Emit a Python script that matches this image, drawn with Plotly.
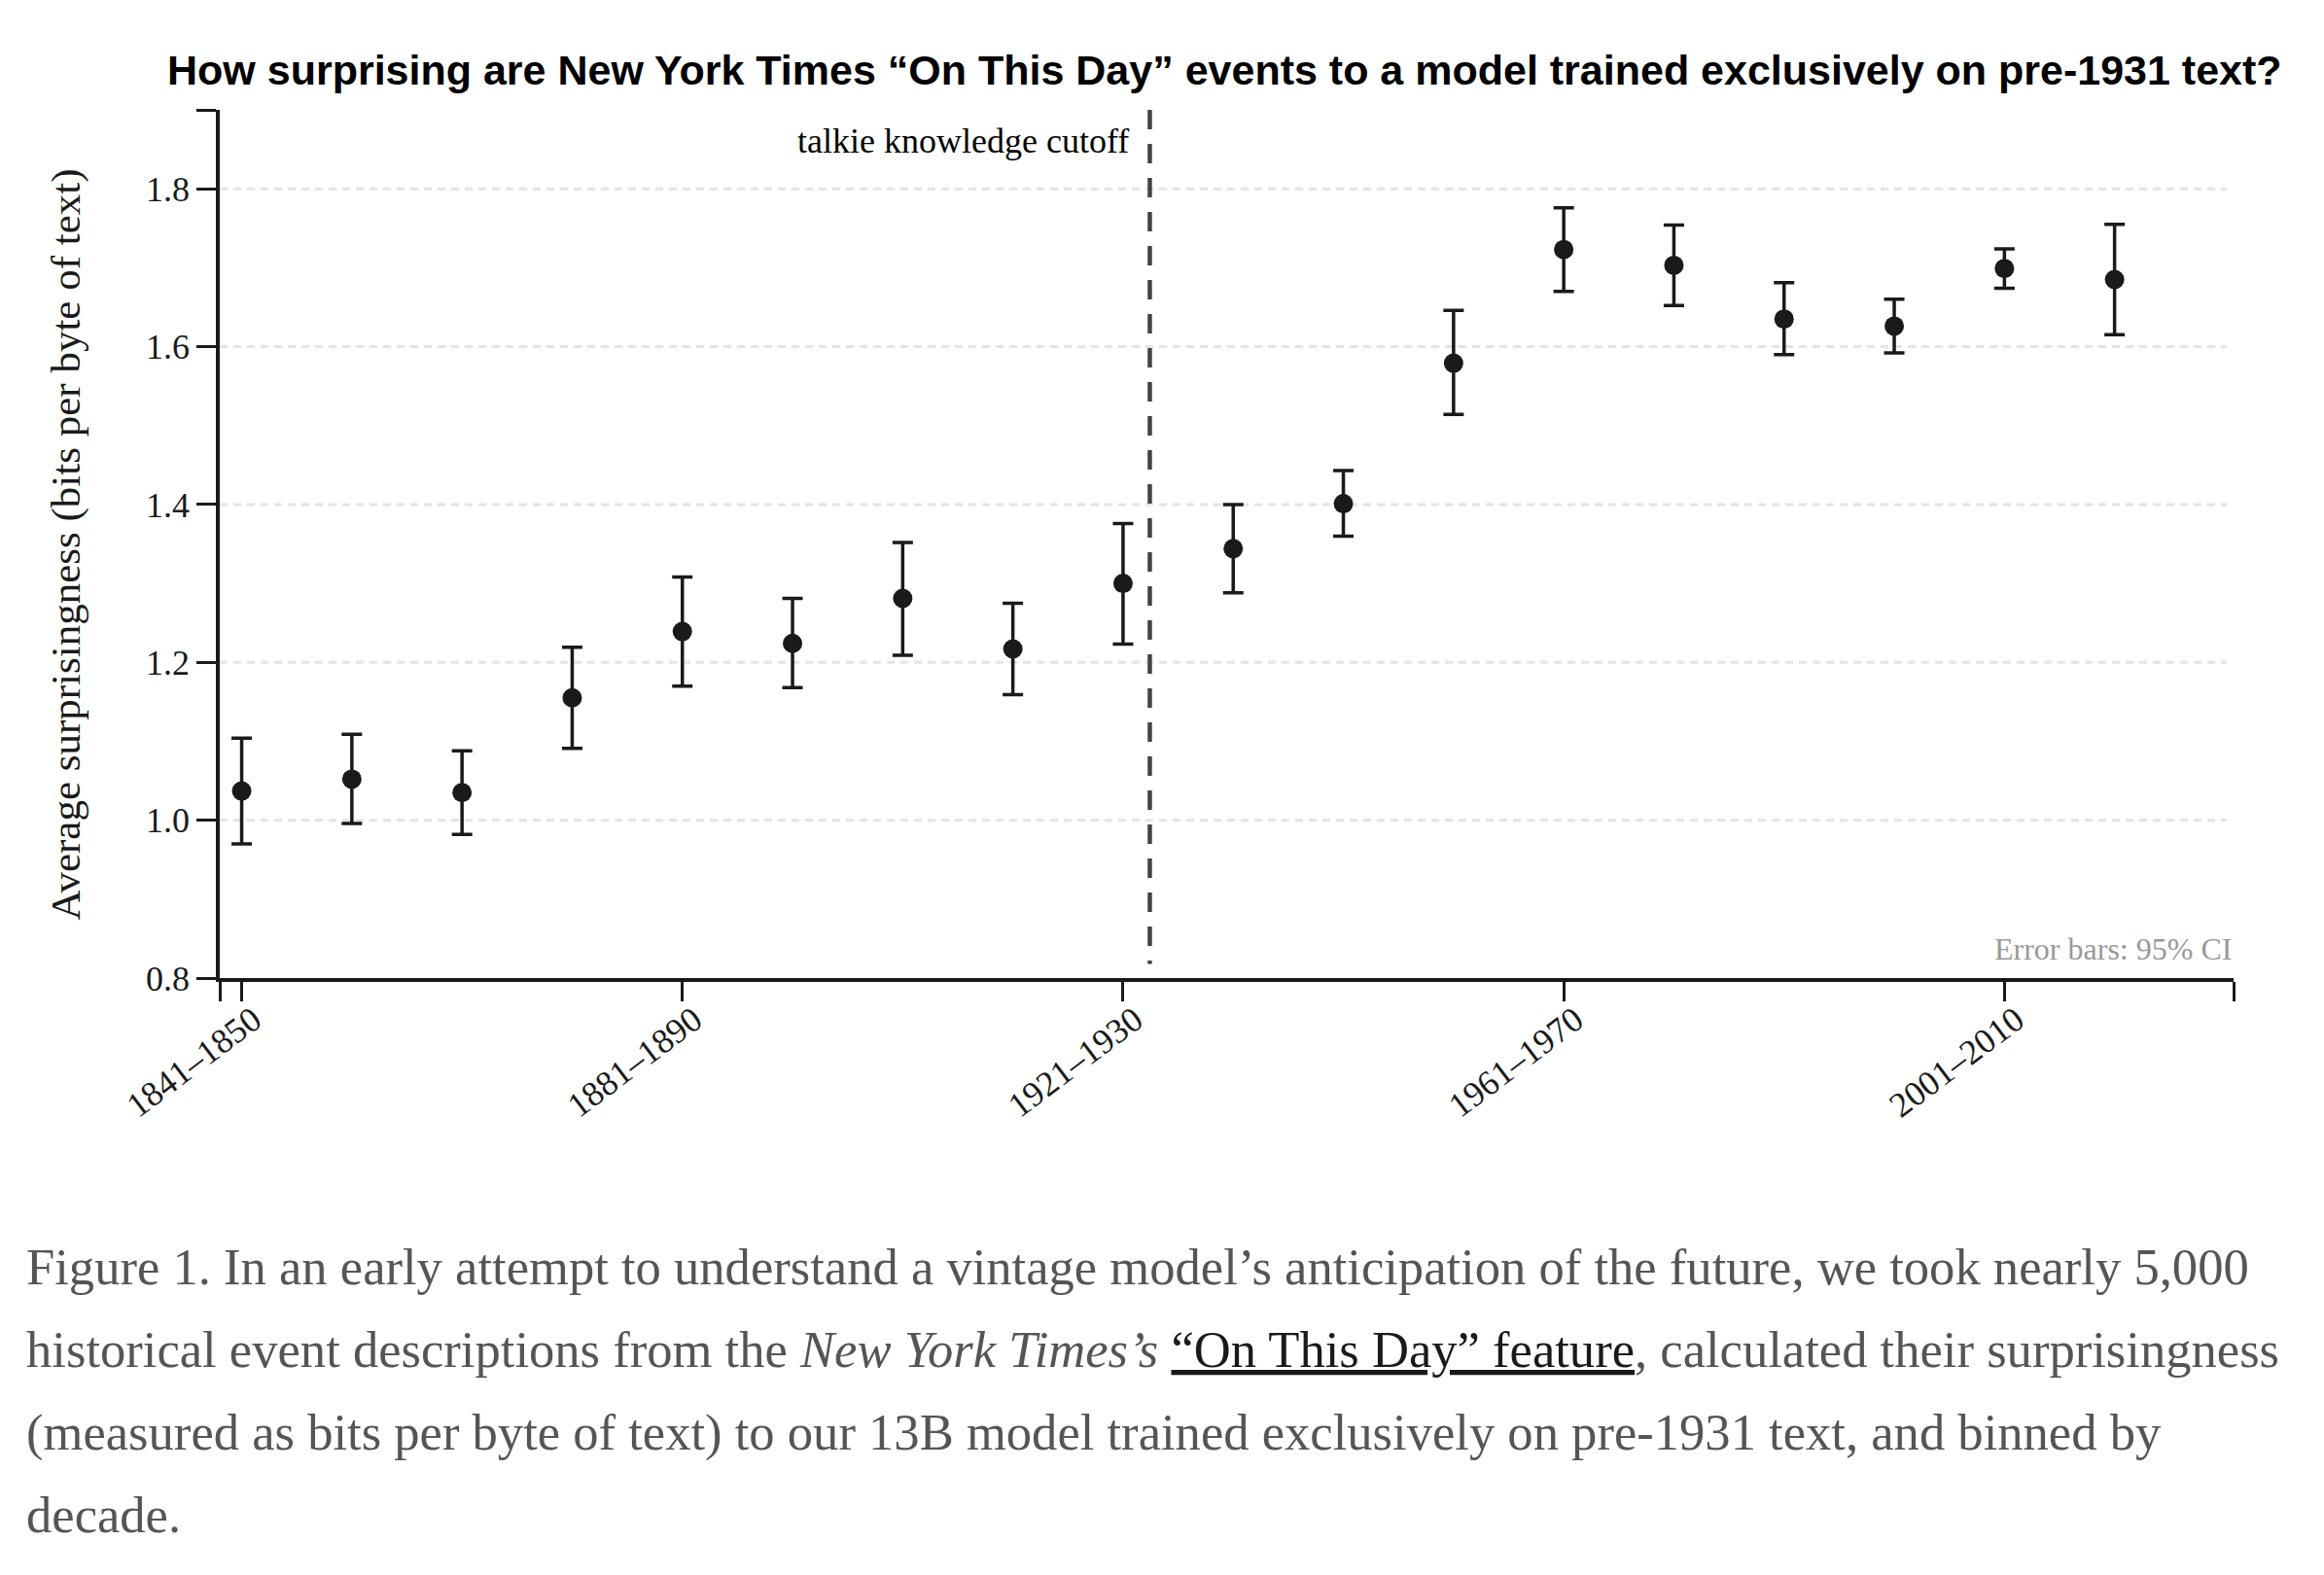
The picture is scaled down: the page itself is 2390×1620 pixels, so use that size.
import plotly.graph_objects as go

# ---------------- data ----------------
decades = ["1841–1850", "1851–1860", "1861–1870", "1871–1880", "1881–1890",
           "1891–1900", "1901–1910", "1911–1920", "1921–1930", "1931–1940",
           "1941–1950", "1951–1960", "1961–1970", "1971–1980", "1981–1990",
           "1991–2000", "2001–2010", "2011–2020"]
means = [1.037, 1.052, 1.035, 1.155, 1.239, 1.224, 1.281, 1.217, 1.300,
         1.344, 1.401, 1.579, 1.723, 1.703, 1.635, 1.626, 1.699, 1.685]
ci_upper = [1.104, 1.109, 1.088, 1.219, 1.308, 1.281, 1.352, 1.275, 1.376,
            1.400, 1.443, 1.646, 1.776, 1.754, 1.681, 1.660, 1.724, 1.755]
ci_lower = [0.970, 0.996, 0.982, 1.091, 1.170, 1.168, 1.209, 1.159, 1.223,
            1.288, 1.360, 1.514, 1.670, 1.652, 1.590, 1.592, 1.674, 1.615]
label_every = 4
y_ticks = [0.8, 1.0, 1.2, 1.4, 1.6, 1.8]
grid_vals = [1.0, 1.2, 1.4, 1.6, 1.8]
y_range = [0.8, 1.9]
x_range = [-0.199, 18.08]
cutoff_pos = 8.243          # position of the knowledge cutoff on the decade axis
cutoff_line_bottom = 0.818

title_text = "How surprising are New York Times “On This Day” events to a model trained exclusively on pre-1931 text?"
ytitle_text = "Average surprisingness (bits per byte of text)"
caption_lines = [
    "Figure 1. In an early attempt to understand a vintage model’s anticipation of the future, we took nearly 5,000",
    "historical event descriptions from the <i>New York Times’s</i> "
    "<span style='color:#1a1a1a;text-decoration:underline'>“On This Day” feature</span>, calculated their surprisingness",
    "(measured as bits per byte of text) to our 13B model trained exclusively on pre-1931 text, and binned by",
    "decade.",
]

# ---------------- layout geometry (px) ----------------
W, H = 2390, 1620
DX, DY = -5.0, -9.0
L, R, T, B = 223.2 + DX, 2294.4 + DX, 114.4 + DY, 1007.3 + DY
INK = "#1a1a1a"
SERIF = "Liberation Serif, Times New Roman, serif"
SANS = "Liberation Sans, Arial, Helvetica, sans-serif"


def px_x(px):
    return (px + DX - L) / (R - L)


def px_y(py):
    return (B - (py + DY)) / (B - T)


x_idx = list(range(len(decades)))
err_plus = [u - m for u, m in zip(ci_upper, means)]
err_minus = [m - lo for m, lo in zip(means, ci_lower)]

fig = go.Figure()
fig.add_trace(go.Scatter(
    x=x_idx, y=means, mode="markers",
    marker=dict(size=20, color=INK),
    error_y=dict(type="data", symmetric=False, array=err_plus, arrayminus=err_minus,
                 color=INK, thickness=3.5, width=10.5),
    hoverinfo="skip", showlegend=False,
))

shapes = []
for v in grid_vals:
    shapes.append(dict(type="line", xref="x", yref="y", x0=x_range[0], x1=18.02, y0=v, y1=v,
                       line=dict(color="#e4e4e4", width=3, dash="8px,6px"), layer="below"))
shapes.append(dict(type="line", xref="x", yref="y", x0=cutoff_pos, x1=cutoff_pos,
                   y0=y_range[1], y1=cutoff_line_bottom,
                   line=dict(color="#444444", width=4.5, dash="20px,15px"), layer="above"))

xtick_vals = [x_range[0]] + x_idx[::label_every] + [x_range[1]]
xtick_text = [""] + decades[::label_every] + [""]
ytick_vals = y_ticks + [y_range[1]]
ytick_text = [f"{v:.1f}" for v in y_ticks] + [""]

annotations = [
    dict(text="<b>" + title_text + "</b>", xref="paper", yref="paper",
         x=px_x(1257), y=px_y(73.5), xanchor="center", yanchor="middle", showarrow=False,
         font=dict(family=SANS, size=43, color="#000000")),
    dict(text=ytitle_text, xref="paper", yref="paper", x=px_x(65), y=px_y(561),
         xanchor="center", yanchor="middle", textangle=-90, showarrow=False,
         font=dict(family=SERIF, size=43, color=INK)),
    dict(text="talkie knowledge cutoff", xref="paper", yref="paper",
         x=px_x(1160), y=px_y(146), xanchor="right", yanchor="middle", showarrow=False,
         font=dict(family=SERIF, size=36, color="#000000")),
    dict(text="Error bars: 95% CI", xref="paper", yref="paper",
         x=px_x(2294), y=px_y(977), xanchor="right", yanchor="middle", showarrow=False,
         font=dict(family=SERIF, size=32, color="#999999")),
]
cap_size = 52.6
for i, line in enumerate(caption_lines):
    baseline = 1322.5 + 85 * i
    annotations.append(dict(text=line, xref="paper", yref="paper",
                            x=px_x(22), y=px_y(baseline - 0.34 * cap_size),
                            xanchor="left", yanchor="middle", align="left", showarrow=False,
                            font=dict(family=SERIF, size=cap_size, color="#555555")))

fig.update_layout(
    width=W, height=H,
    margin=dict(l=L, r=W - R, t=T, b=H - B, pad=0),
    paper_bgcolor="white", plot_bgcolor="white",
    shapes=shapes, annotations=annotations,
    xaxis=dict(range=x_range, tickmode="array", tickvals=xtick_vals, ticktext=xtick_text,
               tickangle=-37, ticks="outside", ticklen=20, tickwidth=3, tickcolor=INK,
               ticklabelstandoff=-16, ticklabelshift=12,
               showline=True, linecolor=INK, linewidth=3.5, showgrid=False, zeroline=False,
               tickfont=dict(family=SERIF, size=36, color=INK)),
    yaxis=dict(range=y_range, tickmode="array", tickvals=ytick_vals, ticktext=ytick_text,
               ticks="outside", ticklen=20, tickwidth=3, tickcolor=INK,
               showline=True, linecolor=INK, linewidth=3.5, showgrid=False, zeroline=False,
               tickfont=dict(family=SERIF, size=36, color=INK)),
)

fig.write_html("out.html")
